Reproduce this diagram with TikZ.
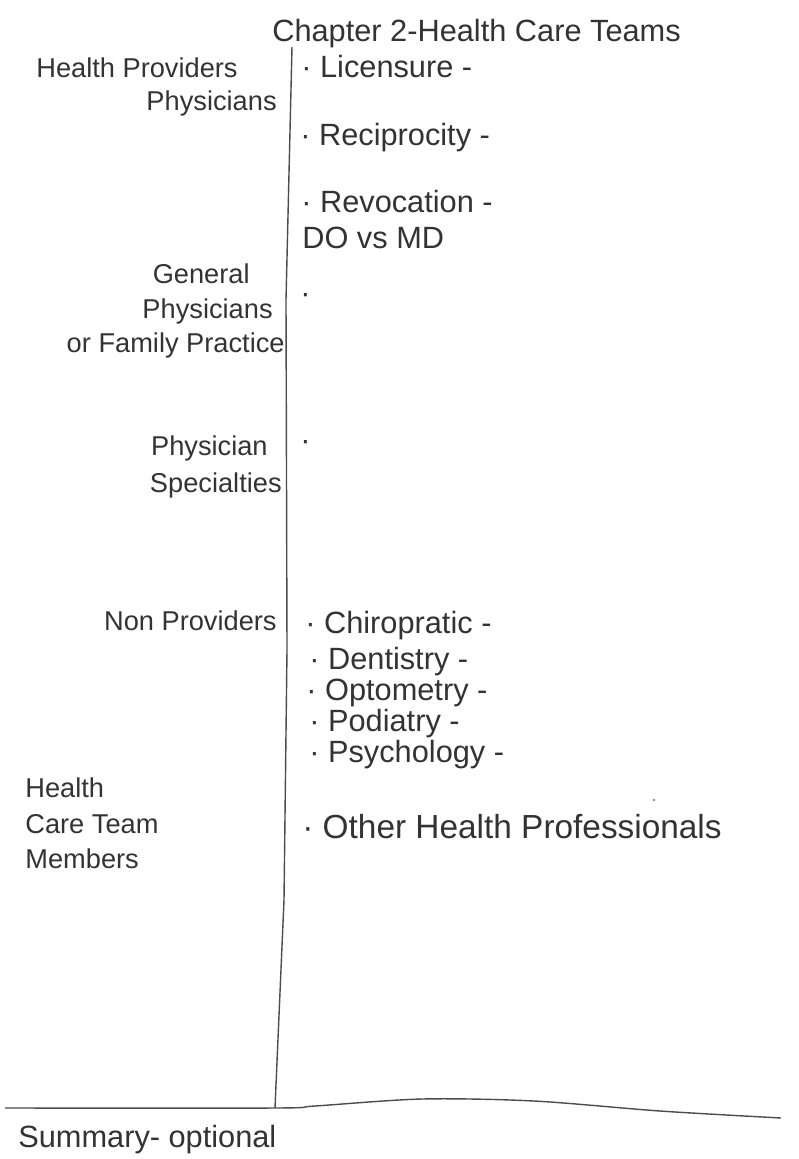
\documentclass[tikz,border=0pt]{standalone}
\usepackage{fontspec}
\setmainfont{Liberation Sans}
\tikzset{
  pen/.style={draw=black!70, line width=0.8pt},
  cue/.style={font=\fontsize{15.5}{18}\selectfont, text=black!80, inner sep=0pt, anchor=base east},
  note/.style={font=\fontsize{17.5}{21}\selectfont, text=black!80, inner sep=0pt, anchor=base west},
}
\begin{document}
\begin{tikzpicture}[x=0.02cm,y=-0.02cm]
\useasboundingbox (0,0) rectangle (798,1159);

% title
\node[note] (title) at (272,42) {Chapter 2-Health Care Teams};

% rules
\draw[pen] (292,47) -- (286,300) -- (287,650) -- (284,900) -- (275,1108);
\draw[pen] plot[smooth] coordinates {(5,1108) (275,1108) (315,1106) (422,1099) (534,1101) (660,1111) (781,1118)};

% cue column
\node[cue, anchor=base west] (hp) at (36,78) {Health Providers};
\node[cue] (phys) at (277,111) {Physicians};
\node[cue] (gen) at (250,283) {General};
\node[cue] (gphys) at (273,318) {Physicians};
\node[cue] (fam) at (285,352) {or Family Practice};
\node[cue] (psn) at (268,455) {Physician};
\node[cue] (spec) at (282,492) {Specialties};
\node[cue] (np) at (277,630) {Non Providers};
\node[cue, anchor=base west] (hct1) at (25,797) {Health};
\node[cue, anchor=base west] (hct2) at (25,833) {Care Team};
\node[cue, anchor=base west] (hct3) at (25,868) {Members};

% notes column
\node[note] (lic) at (301,78) {· Licensure -};
\node[note] (rec) at (300,145) {· Reciprocity -};
\node[note] (rev) at (301,212) {· Revocation -};
\node[note] (dovs) at (302,248) {DO vs MD};
\node[note] (gpdot) at (300,303) {·};
\node[note] (psdot) at (300,450) {·};
\node[note] (chi) at (305,633) {· Chiropratic -};
\node[note] (den) at (309,669) {· Dentistry -};
\node[note] (opt) at (306,700) {· Optometry -};
\node[note] (pod) at (309,731) {· Podiatry -};
\node[note] (psy) at (309,762) {· Psychology -};
\node[note, font=\fontsize{19}{22}\selectfont] (other) at (302,838) {· Other Health Professionals};
\fill[black!60] (654,800) circle (1.2);

% summary
\node[note] (sum) at (18,1147) {Summary- optional};

\end{tikzpicture}
\end{document}
